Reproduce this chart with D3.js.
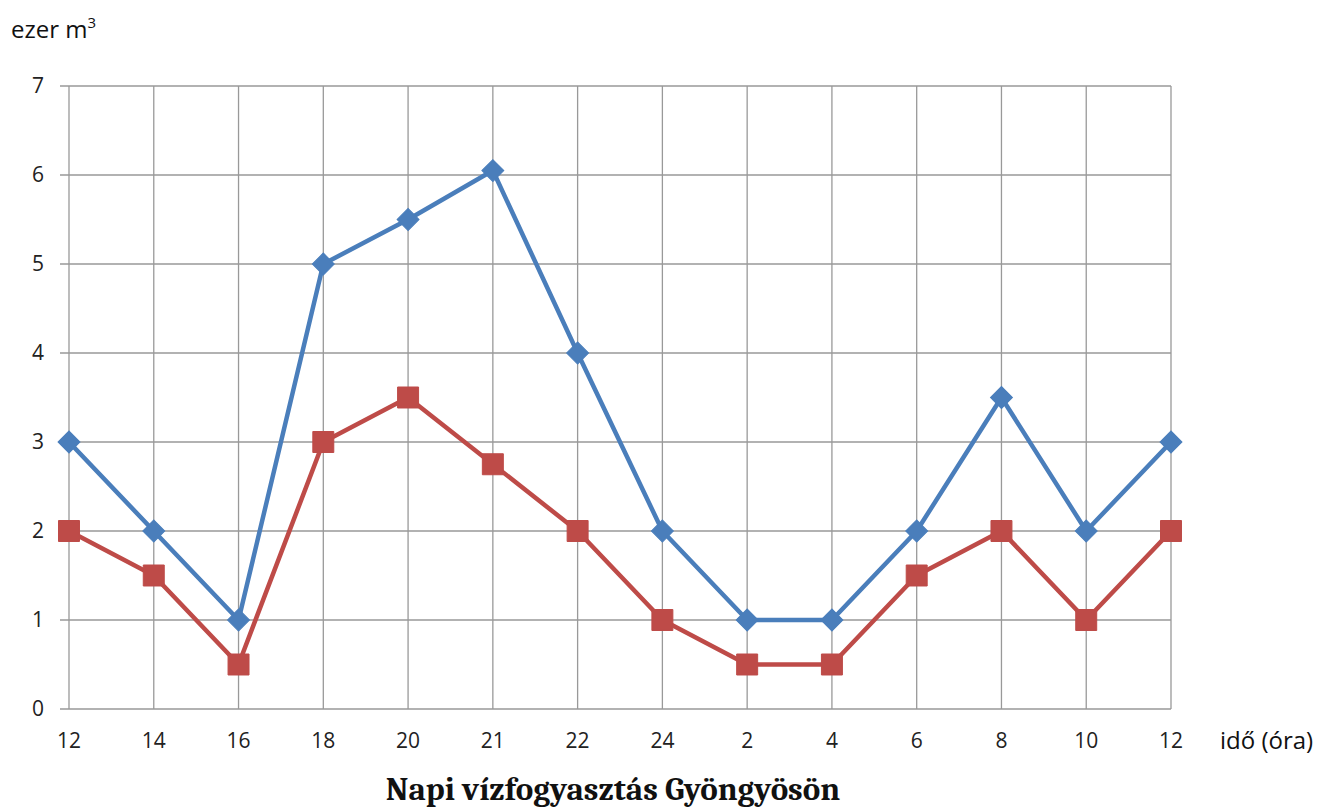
<!DOCTYPE html>
<html>
<head>
<meta charset="utf-8">
<script src="https://cdn.jsdelivr.net/npm/d3@7"></script>
<style>
  html, body { margin: 0; padding: 0; background: #fff; }
  svg { display: block; }
</style>
</head>
<body>
<script>
// Hour labels along the x axis (one day, starting at noon)
const hours = ["12", "14", "16", "18", "20", "21", "22", "24", "2", "4", "6", "8", "10", "12"];
// Water consumption, thousand m³
const seriesBlue = [3, 2, 1, 5, 5.5, 6.05, 4, 2, 1, 1, 2, 3.5, 2, 3];
const seriesRed  = [2, 1.5, 0.5, 3, 3.5, 2.75, 2, 1, 0.5, 0.5, 1.5, 2, 1, 2];
const yTicks = [0, 1, 2, 3, 4, 5, 6, 7];

const W = 1333, H = 807;
const plotLeft = 69, plotRight = 1171, plotTop = 86, plotBottom = 709;

const svg = d3.select("body").append("svg").attr("width", W).attr("height", H);

const x = d3.scalePoint().domain(d3.range(hours.length)).range([plotLeft, plotRight]);
const y = d3.scaleLinear().domain([0, 7]).range([plotBottom, plotTop]);

const font = "'Open Sans', 'Liberation Sans', sans-serif";

// horizontal grid lines (extending slightly left as tick marks)
svg.append("g").selectAll("line").data(yTicks).join("line")
  .attr("x1", plotLeft - 9).attr("x2", plotRight)
  .attr("y1", d => y(d)).attr("y2", d => y(d))
  .attr("stroke", "#999").attr("stroke-width", 1.3);

// vertical grid lines at each category
svg.append("g").selectAll("line").data(d3.range(hours.length)).join("line")
  .attr("x1", d => x(d)).attr("x2", d => x(d))
  .attr("y1", plotTop).attr("y2", plotBottom)
  .attr("stroke", "#999").attr("stroke-width", 1.3);

// y tick labels
svg.append("g").selectAll("text").data(yTicks).join("text")
  .attr("x", 44).attr("y", d => y(d)).attr("dy", "0.35em")
  .attr("text-anchor", "end")
  .attr("font-family", font).attr("font-size", 21).attr("fill", "#222")
  .text(d => d);

// x tick labels
svg.append("g").selectAll("text").data(hours).join("text")
  .attr("x", (d, i) => x(i)).attr("y", 741).attr("dy", "0.35em")
  .attr("text-anchor", "middle")
  .attr("font-family", font).attr("font-size", 21).attr("fill", "#222")
  .text(d => d);

// axis titles
const yt = svg.append("text").attr("x", 11).attr("y", 38)
  .attr("font-family", font).attr("font-size", 24).attr("fill", "#111");
yt.append("tspan").text("ezer m");
yt.append("tspan").attr("font-size", 15).attr("dy", -10).text("3");

svg.append("text").attr("x", 1220).attr("y", 741).attr("dy", "0.35em")
  .attr("font-family", font).attr("font-size", 24).attr("fill", "#111")
  .text("idő (óra)");

// chart title
svg.append("text").attr("x", 613).attr("y", 800)
  .attr("text-anchor", "middle")
  .attr("font-family", "Caladea, 'Liberation Serif', 'DejaVu Serif', serif")
  .attr("font-weight", "bold").attr("font-size", 33).attr("fill", "#111")
  .text("Napi vízfogyasztás Gyöngyösön");

const line = d3.line().x((d, i) => x(i)).y(d => y(d));

function drawSeries(data, color, rotate, size) {
  const g = svg.append("g");
  g.append("path").datum(data).attr("d", line)
    .attr("fill", "none").attr("stroke", color)
    .attr("stroke-width", 4.5).attr("stroke-linejoin", "round");
  g.selectAll("path.m").data(data).join("path").attr("class", "m")
    .attr("transform", (d, i) => `translate(${x(i)},${y(d)}) rotate(${rotate})`)
    .attr("d", d3.symbol().type(d3.symbolSquare).size(size))
    .attr("fill", color).attr("stroke", color).attr("stroke-width", 1);
}

// red series (squares) drawn first, blue diamonds on top
drawSeries(seriesRed, "#be4b48", 0, 440);
drawSeries(seriesBlue, "#4a7ebb", 45, 240);
</script>
</body>
</html>
